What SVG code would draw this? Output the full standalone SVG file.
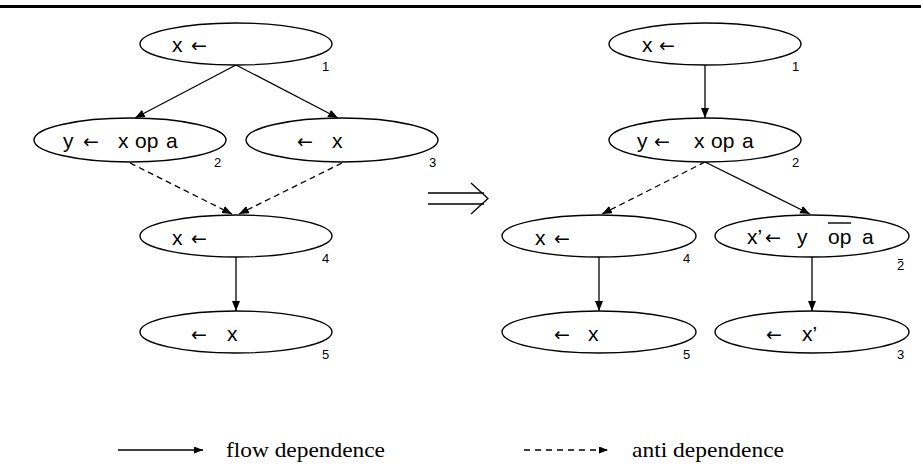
<svg xmlns="http://www.w3.org/2000/svg" width="921" height="473" viewBox="0 0 921 473">
<style>
.n ellipse{fill:#fff;stroke:#000;stroke-width:1.4}
.t{font-family:"Liberation Sans",Arial,sans-serif;font-size:21px;fill:#000}
.ar{font-family:"DejaVu Sans",sans-serif;font-size:19px;fill:#000}
.num{font-family:"Liberation Sans",Arial,sans-serif;font-size:13px;fill:#000}
.e{stroke:#000;stroke-width:1.3;fill:none}
.flow{marker-end:url(#ah)}
.anti{stroke-dasharray:6,4;marker-end:url(#ah)}
.leg{font-family:"Liberation Serif","Times New Roman",serif;font-size:22px;fill:#000}
</style>
<defs>
<marker id="ah" markerUnits="userSpaceOnUse" markerWidth="11" markerHeight="9" refX="10" refY="4" orient="auto">
<path d="M0,0 L10,4 L0,8 z" fill="#000"/>
</marker>
<marker id="ahs" markerUnits="userSpaceOnUse" markerWidth="10" markerHeight="8" refX="9" refY="3.5" orient="auto">
<path d="M0,0 L9,3.5 L0,7 z" fill="#000"/>
</marker>
</defs>
<rect x="0" y="5" width="921" height="3" fill="#000"/>

<g id="connectors">
<line class="e flow" x1="236" y1="65" x2="135" y2="118"/>
<line class="e flow" x1="236" y1="65" x2="338" y2="118"/>
<line class="e anti" x1="130" y1="163" x2="232" y2="214"/>
<line class="e anti" x1="342" y1="163" x2="239" y2="214"/>
<line class="e flow" x1="236" y1="257" x2="236" y2="311"/>
<line class="e flow" x1="705" y1="65" x2="705" y2="118"/>
<line class="e anti" x1="705" y1="162" x2="602" y2="214"/>
<line class="e flow" x1="705" y1="162" x2="810" y2="214"/>
<line class="e flow" x1="599" y1="257" x2="599" y2="311"/>
<line class="e flow" x1="812" y1="257" x2="812" y2="311"/>
</g>

<g id="L1" class="n">
<ellipse cx="236" cy="44" rx="96" ry="21"/>
<text class="t" x="172" y="52">x</text><text class="ar" x="191" y="52">←</text>
<text class="num" x="322" y="71">1</text>
</g>
<g id="L2" class="n">
<ellipse cx="130" cy="140" rx="96" ry="22"/>
<text class="t" x="63" y="148">y</text><text class="ar" x="83" y="148">←</text>
<text class="t" x="118" y="148">x</text><text class="t" x="135" y="148">op</text><text class="t" x="166" y="148">a</text>
<text class="num" x="214" y="167">2</text>
</g>
<g id="L3" class="n">
<ellipse cx="342" cy="140" rx="96" ry="22"/>
<text class="ar" x="297" y="148">←</text><text class="t" x="332" y="148">x</text>
<text class="num" x="429" y="167">3</text>
</g>
<g id="L4" class="n">
<ellipse cx="236" cy="236" rx="96" ry="21"/>
<text class="t" x="172" y="245">x</text><text class="ar" x="191" y="245">←</text>
<text class="num" x="322" y="263">4</text>
</g>
<g id="L5" class="n">
<ellipse cx="236" cy="332" rx="96" ry="21"/>
<text class="ar" x="191" y="341">←</text><text class="t" x="227" y="341">x</text>
<text class="num" x="322" y="359">5</text>
</g>

<g id="implies">
<line x1="428" y1="193" x2="484" y2="193" stroke="#000" stroke-width="1.3"/>
<line x1="428" y1="204" x2="484" y2="204" stroke="#000" stroke-width="1.3"/>
<polyline points="471,183 488,198.5 471,214" fill="none" stroke="#000" stroke-width="1.3"/>
</g>

<g id="R1" class="n">
<ellipse cx="705" cy="44" rx="96" ry="21"/>
<text class="t" x="642" y="52">x</text><text class="ar" x="659" y="52">←</text>
<text class="num" x="792" y="71">1</text>
</g>
<g id="R2" class="n">
<ellipse cx="705" cy="140" rx="96" ry="22"/>
<text class="t" x="637" y="148">y</text><text class="ar" x="654" y="148">←</text>
<text class="t" x="694" y="148">x</text><text class="t" x="711" y="148">op</text><text class="t" x="742" y="148">a</text>
<text class="num" x="792" y="167">2</text>
</g>
<g id="R4" class="n">
<ellipse cx="599" cy="236" rx="97" ry="21"/>
<text class="t" x="535" y="245">x</text><text class="ar" x="554" y="245">←</text>
<text class="num" x="683" y="263">4</text>
</g>
<g id="R2bar" class="n">
<ellipse cx="812" cy="236" rx="97" ry="21"/>
<text class="t" x="747" y="244">x’</text><text class="ar" x="765" y="244">←</text>
<text class="t" x="797" y="244">y</text><text class="t" x="828" y="244">op</text><text class="t" x="862" y="244">a</text>
<line x1="828" y1="223" x2="851" y2="223" stroke="#000" stroke-width="1.4"/>
<text class="num" x="897" y="270">2</text>
<line x1="898" y1="259.5" x2="903" y2="259.5" stroke="#000" stroke-width="1"/>
</g>
<g id="R5" class="n">
<ellipse cx="599" cy="332" rx="97" ry="21"/>
<text class="ar" x="554" y="341">←</text><text class="t" x="588" y="341">x</text>
<text class="num" x="683" y="359">5</text>
</g>
<g id="R3" class="n">
<ellipse cx="812" cy="332" rx="97" ry="21"/>
<text class="ar" x="766" y="341">←</text><text class="t" x="802" y="341">x’</text>
<text class="num" x="897" y="359">3</text>
</g>

<g id="legend">
<line x1="118" y1="450" x2="203" y2="450" stroke="#000" stroke-width="1.3" marker-end="url(#ahs)"/>
<text class="leg" x="226" y="457" textLength="159" lengthAdjust="spacingAndGlyphs">flow dependence</text>
<line x1="524" y1="450" x2="608" y2="450" stroke="#000" stroke-width="1.3" stroke-dasharray="6,5" marker-end="url(#ahs)"/>
<text class="leg" x="632" y="457" textLength="152" lengthAdjust="spacingAndGlyphs">anti dependence</text>
</g>
</svg>
